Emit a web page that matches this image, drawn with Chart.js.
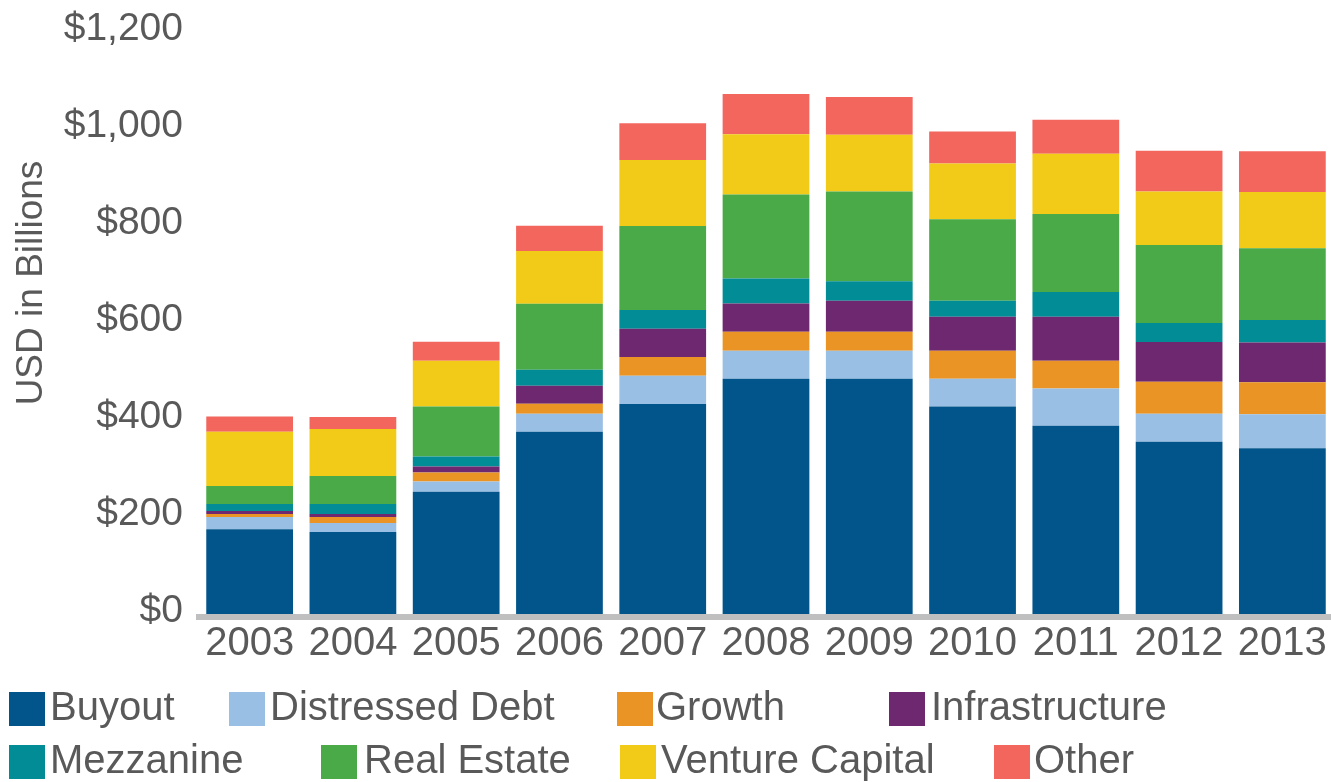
<!DOCTYPE html>
<html>
<head>
<meta charset="utf-8">
<script src="https://cdn.jsdelivr.net/npm/chart.js@4.4.1/dist/chart.umd.min.js"></script>
<style>
  html, body { margin: 0; padding: 0; background: #ffffff; overflow: hidden; width: 1331px; height: 782px; }
  #wrap { position: absolute; left: 0; top: 0; width: 1334px; height: 782px; }
  #legend { position: absolute; left: 0; top: 0; width: 1331px; height: 782px; pointer-events: none;
            font-family: "Liberation Sans", Arial, sans-serif; color: #595959; }
  .sw { position: absolute; width: 36px; height: 34px; }
  .lt { position: absolute; font-size: 40px; line-height: 40px; white-space: nowrap; }
</style>
</head>
<body>
<div id="wrap"><canvas id="c"></canvas></div>
<div id="legend"></div>
<script>
const years = ["2003","2004","2005","2006","2007","2008","2009","2010","2011","2012","2013"];
const buyout         = [175, 169, 252, 376, 433, 485, 485, 428, 388, 355, 342];
const distressedDebt = [25, 18.6, 21, 37, 58, 58, 58, 57, 77, 58, 70];
const growth         = [6, 12.4, 18.6, 20.6, 39, 39, 39, 58, 57, 66, 66];
const infrastructure = [6.5, 6.2, 12.4, 37, 58, 58, 64, 70, 91, 82, 82];
const mezzanine      = [14.5, 20.6, 20.6, 33, 39, 52, 40, 33, 51, 39, 46];
const realEstate     = [37, 57.8, 103, 136, 173, 173, 185, 168, 161, 161, 148];
const ventureCapital = [112, 97, 94.5, 109, 136, 124, 117, 115, 124, 110, 116];
const other          = [31, 24.7, 39, 52, 76, 83, 78, 66, 70, 84, 84];
const yTicks = [0, 200, 400, 600, 800, 1000, 1200];

const seriesNames = ["Buyout","Distressed Debt","Growth","Infrastructure","Mezzanine","Real Estate","Venture Capital","Other"];
const seriesData = [buyout, distressedDebt, growth, infrastructure, mezzanine, realEstate, ventureCapital, other];
const seriesColors = ["#02558B","#9ABFE5","#E99425","#6D2870","#028C95","#4AAA47","#F1CB18","#F2665E"];

// legend layout (swatch left, swatch top, text left)
const legendLayout = [
  [9, 692, 50], [229, 692, 270], [617, 692, 656], [889, 692, 931],
  [9, 745, 50], [321, 745, 364], [620, 745, 661], [994, 745, 1034]
];

const FONT = '"Liberation Sans", Arial, sans-serif';
const TXT = '#595959';

const axisLine = {
  id: 'axisLine',
  afterDatasetsDraw(chart) {
    const ctx = chart.ctx, a = chart.chartArea;
    ctx.save();
    ctx.fillStyle = '#BFBFBF';
    ctx.fillRect(196, a.bottom, chart.width - 196, 6);
    ctx.restore();
  }
};
const yTitle = {
  id: 'yTitle',
  afterDraw(chart) {
    const ctx = chart.ctx;
    ctx.save();
    ctx.translate(32, 283);
    ctx.rotate(-Math.PI / 2);
    ctx.font = '37px ' + FONT;
    ctx.fillStyle = TXT;
    ctx.textAlign = 'center';
    ctx.textBaseline = 'middle';
    ctx.fillText('USD in Billions', 0, 0);
    ctx.restore();
  }
};

const chart = new Chart(document.getElementById('c'), {
  type: 'bar',
  data: {
    labels: years,
    datasets: seriesNames.map((n, i) => ({
      label: n, data: seriesData[i], backgroundColor: seriesColors[i],
      borderWidth: 0, barPercentage: 0.84, categoryPercentage: 1.0
    }))
  },
  options: {
    responsive: true, maintainAspectRatio: false, animation: false,
    layout: { padding: { top: 32, right: 0, bottom: 0, left: 0 } },
    plugins: { legend: { display: false }, tooltip: { enabled: false } },
    scales: {
      x: {
        stacked: true,
        grid: { display: false, drawTicks: false },
        border: { display: false },
        ticks: { color: TXT, font: { family: FONT, size: 40 }, padding: 6, maxRotation: 0 },
        afterFit(s) { s.height = 168; }
      },
      y: {
        stacked: true, min: 0, max: 1200,
        afterBuildTicks(s) { s.ticks = yTicks.map(v => ({ value: v })); },
        grid: { display: false, drawTicks: false },
        border: { display: false },
        ticks: { color: TXT, font: { family: FONT, size: 39 }, padding: 15, labelOffset: -3,
                 callback: v => '$' + v.toLocaleString('en-US') },
        afterFit(s) { s.width = 198; s.paddingTop = 0; s.paddingBottom = 0; }
      }
    }
  },
  plugins: [axisLine, yTitle]
});

// custom legend from the chart's datasets
const lg = document.getElementById('legend');
chart.data.datasets.forEach((ds, i) => {
  const [sx, sy, tx] = legendLayout[i];
  const sw = document.createElement('div');
  sw.className = 'sw'; sw.style.left = sx + 'px'; sw.style.top = sy + 'px';
  sw.style.background = ds.backgroundColor;
  const t = document.createElement('div');
  t.className = 'lt'; t.style.left = tx + 'px'; t.style.top = (sy - 6) + 'px';
  t.textContent = ds.label;
  lg.appendChild(sw); lg.appendChild(t);
});
</script>
</body>
</html>
